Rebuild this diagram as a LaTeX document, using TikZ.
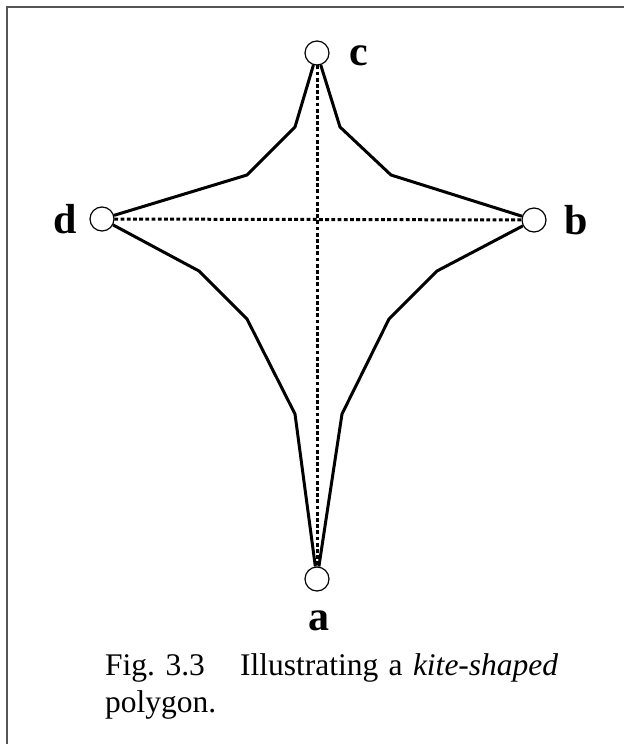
\documentclass[tikz,border=0pt]{standalone}
\usepackage{fontspec}
\setmainfont{Liberation Serif}
\tikzset{
  vert/.style={circle,draw,line width=1.2pt,fill=white,minimum size=24pt,inner sep=0pt},
  lbl/.style={font=\fontsize{42}{42}\selectfont\bfseries,anchor=base,inner sep=0pt},
  edge/.style={line width=3pt,line join=miter},
  diag/.style={line width=3pt,dash pattern=on 3.8pt off 2.4pt},
  frame/.style={line width=2pt,draw={rgb,255:red,85;green,85;blue,85}}
}
\begin{document}
\begin{tikzpicture}[x=1pt,y=-1pt]
\useasboundingbox (0,0) rectangle (624,744);
\draw[frame] (7,744) -- (7,7) -- (624,7);
% vertices
\coordinate (ac) at (317,579);
\coordinate (bc) at (534,220);
\coordinate (cc) at (317,53);
\coordinate (dc) at (102,219);
% intermediate points
\coordinate (l1) at (295,414);
\coordinate (l2) at (247,319);
\coordinate (l3) at (199,271);
\coordinate (u1) at (247,175);
\coordinate (u2) at (295,127);
\coordinate (u3) at (340,127);
\coordinate (u4) at (391,175);
\coordinate (r3) at (437,271);
\coordinate (r2) at (389,319);
\coordinate (r1) at (342,414);
% diagonals
\draw[diag] (cc) -- (ac);
\draw[diag] (dc) -- (bc);
% circles
\node[vert] (a) at (ac) {};
\node[vert] (b) at (bc) {};
\node[vert] (c) at (cc) {};
\node[vert] (d) at (dc) {};
% polygon
\draw[edge] (a) -- (l1) -- (l2) -- (l3) -- (d);
\draw[edge] (d) -- (u1) -- (u2) -- (c);
\draw[edge] (c) -- (u3) -- (u4) -- (b);
\draw[edge] (b) -- (r3) -- (r2) -- (r1) -- (a);
% labels
\node[lbl] (la) at (319,630) {a};
\node[lbl] (lb) at (576,234) {b};
\node[lbl] (lc) at (359,65) {c};
\node[lbl] (ld) at (65,233) {d};
% caption
\node[anchor=north west,inner sep=0pt,text width=453pt,align=justify,
      font=\fontsize{31.5}{37}\selectfont] (cap) at (105,653)
  {\mbox{Fig. 3.3}\hspace{0.8em plus 0.5em}Illustrating a \textit{kite-shaped} polygon.};
\end{tikzpicture}
\end{document}
